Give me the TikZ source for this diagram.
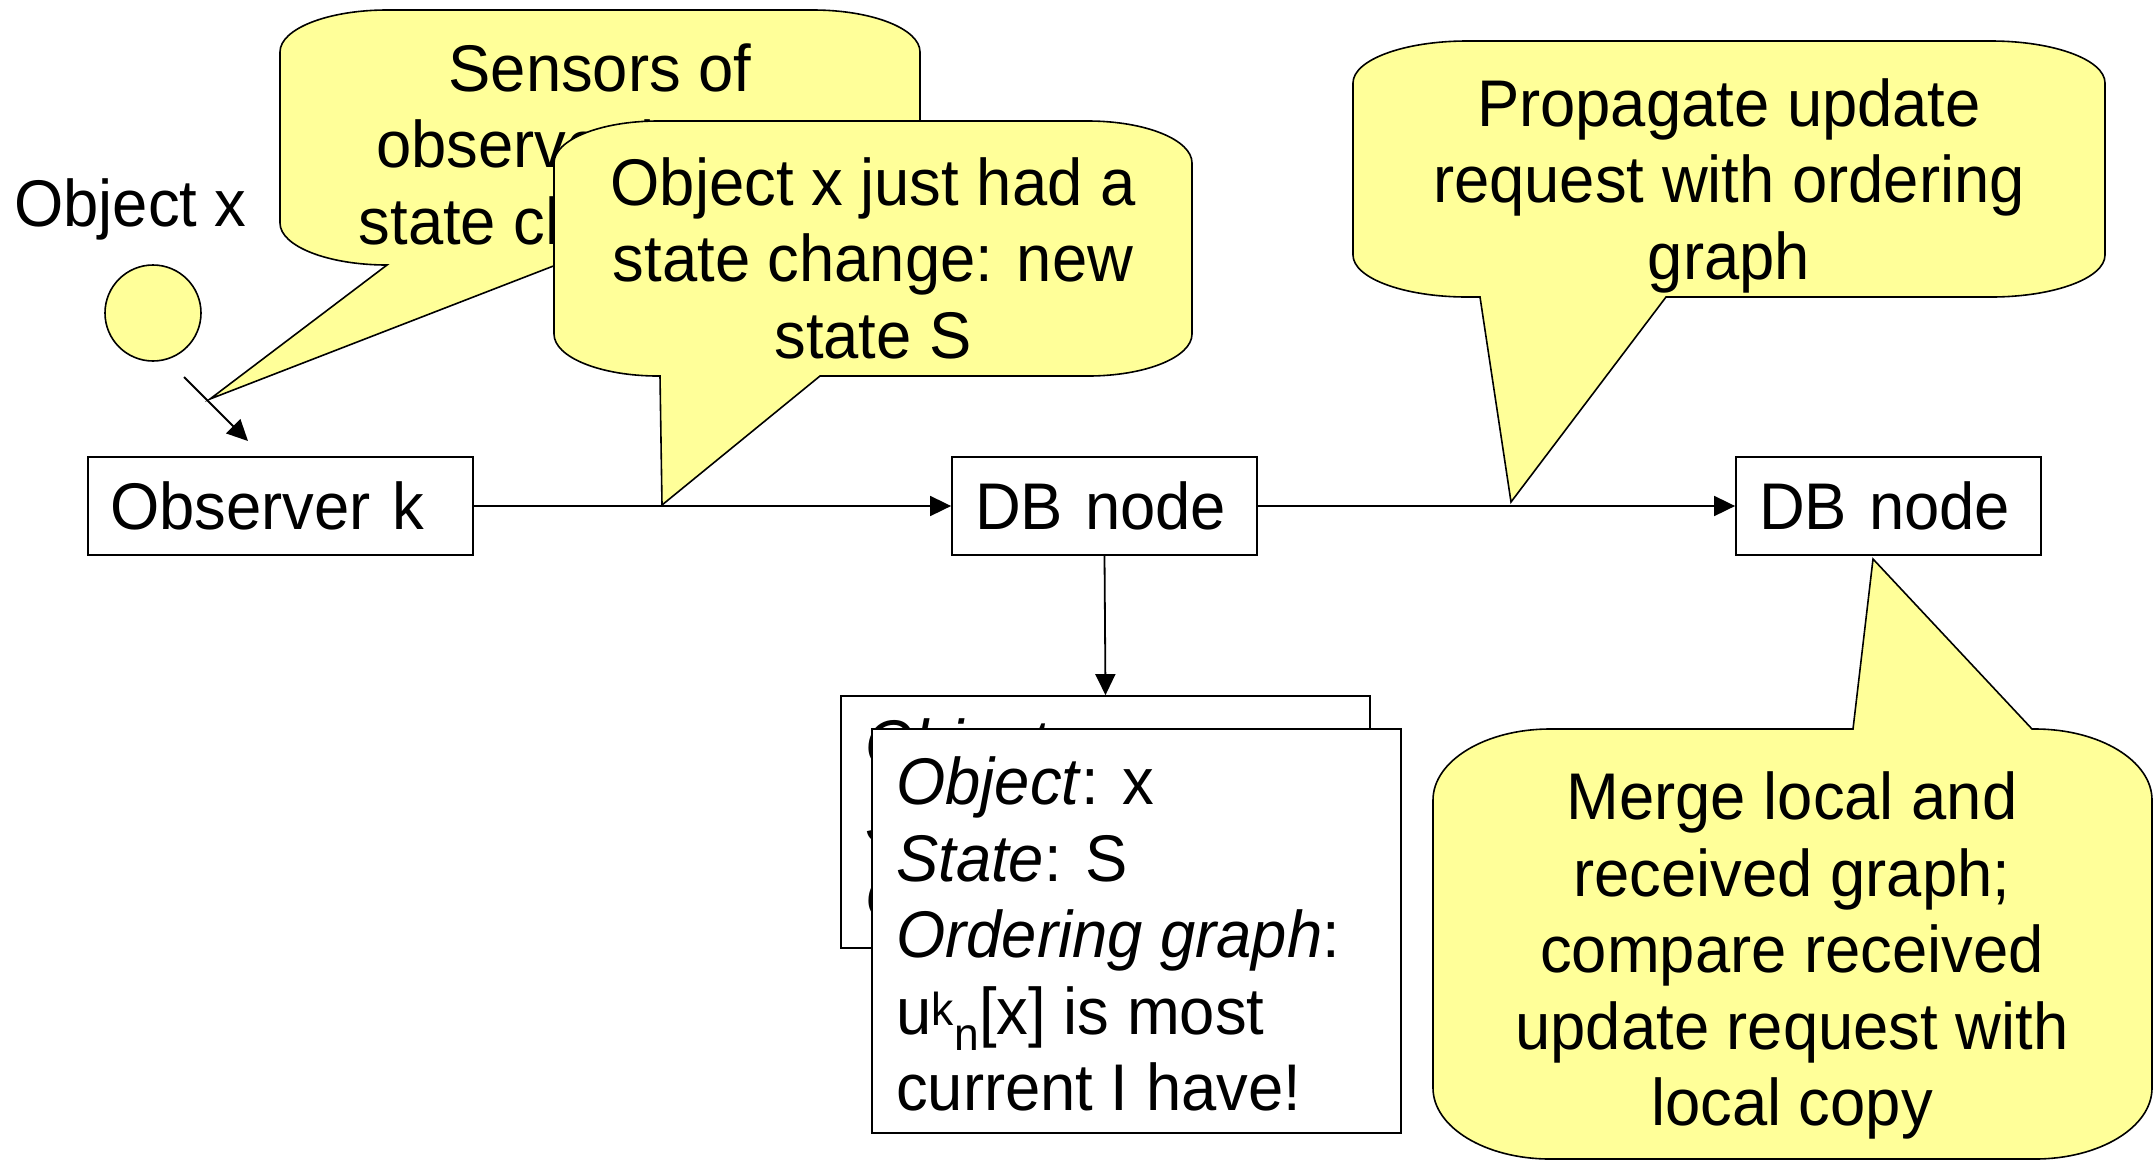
\documentclass[tikz,border=0pt]{standalone}
\usepackage{fontspec}
\setmainfont{Liberation Sans}[FakeStretch=0.96]
\usetikzlibrary{arrows.meta}
\definecolor{bubyellow}{HTML}{FFFF99}
\tikzset{
  bubble/.style={draw=black, line width=1.6pt, fill=bubyellow, line join=miter},
  rbox/.style={draw=black, line width=1.8pt, fill=white, rectangle, inner sep=0pt, align=left},
  onel/.style={text height=47.3pt, text depth=0pt},
  ml/.style={inner sep=0pt, align=center},
  mll/.style={inner sep=0pt, align=left},
  arr/.style={line width=1.8pt, -{Triangle[length=21pt,width=20pt]}},
}
\begin{document}
\begin{tikzpicture}[x=1pt,y=1pt,font=\fontsize{66}{76.5}\selectfont]
\useasboundingbox (0,0) rectangle (2154,-1160);

% object and its label
\node[inner sep=0pt, onel, anchor=west] (objlabel) at (14,-203) {Object x};
\node[circle, draw=black, line width=1.6pt, fill=bubyellow, minimum size=96pt, inner sep=0pt] (obj) at (153,-313) {};

% boxes
\node[rbox, onel, minimum width=385pt, minimum height=98pt, text width=341pt] (obs) at (280.5,-506) {Observer k};
\node[rbox, onel, minimum width=305pt, minimum height=98pt, text width=259pt] (db1) at (1104.5,-506) {DB node};
\node[rbox, onel, minimum width=305pt, minimum height=98pt, text width=259pt] (db2) at (1888.5,-506) {DB node};

% arrows
\coordinate (s1) at (184,-377);
\coordinate (s2) at (248,-441);
\draw[arr] (s1) -- (s2);
\draw[arr] (obs.east) -- (db1.west);
\draw[arr] (db1.east) -- (db2.west);

% stacked record boxes
\node[rbox, minimum width=529pt, minimum height=252pt] (back) at (1105.5,-822) {};
\draw[arr] (db1.south) -- (back.north);
\node[mll, anchor=west] (backtxt) at (865,-827.4) {\textit{Object}: x\strut\\\textit{State}: S\strut\\\textit{Ordering graph}:\strut};
\node[rbox, minimum width=529pt, minimum height=404pt] (front) at (1136.5,-931) {};
\node[mll, anchor=west] (fronttxt) at (896,-942.4) {\textit{Object}: x\strut\\\textit{State}: S\strut\\\textit{Ordering graph}:\strut\\u\textsuperscript{k}\textsubscript{n}[x] is most\strut\\current I have!\strut};

% callout 1 (partly hidden)
\draw[bubble] (387,-10) -- (813,-10) arc[start angle=90,end angle=0,x radius=107,y radius=42]
  -- (920,-223) arc[start angle=0,end angle=-90,x radius=107,y radius=42]
  -- (556,-265) -- (210,-399) -- (387,-265)
  arc[start angle=-90,end angle=-180,x radius=107,y radius=42]
  -- (280,-52) arc[start angle=180,end angle=90,x radius=107,y radius=42] -- cycle;
\node[ml] (t1) at (600,-152.5) {Sensors of\strut\\observer k sees\strut\\state change of x\strut};

% callout 2
\draw[bubble] (658,-121) -- (1088,-121) arc[start angle=90,end angle=0,x radius=104,y radius=42]
  -- (1192,-334) arc[start angle=0,end angle=-90,x radius=104,y radius=42]
  -- (820,-376) -- (662,-505) -- (660,-376) -- (658,-376)
  arc[start angle=-90,end angle=-180,x radius=104,y radius=42]
  -- (554,-163) arc[start angle=180,end angle=90,x radius=104,y radius=42] -- cycle;
\node[ml] (t2) at (873,-266.4) {Object x just had a\strut\\state change: new\strut\\state S\strut};

% callout 3
\draw[bubble] (1467,-41) -- (1991,-41) arc[start angle=90,end angle=0,x radius=114,y radius=42]
  -- (2105,-255) arc[start angle=0,end angle=-90,x radius=114,y radius=42]
  -- (1666,-297) -- (1511,-502) -- (1480,-297) -- (1467,-297)
  arc[start angle=-90,end angle=-180,x radius=114,y radius=42]
  -- (1353,-83) arc[start angle=180,end angle=90,x radius=114,y radius=42] -- cycle;
\node[ml] (t3) at (1729,-187.4) {Propagate update\strut\\request with ordering\strut\\graph\strut};

% callout 4
\draw[bubble] (1550,-729) -- (1853,-729) -- (1873,-559) -- (2032,-729) -- (2035,-729)
  arc[start angle=90,end angle=0,x radius=117,y radius=71]
  -- (2152,-1088) arc[start angle=0,end angle=-90,x radius=117,y radius=71]
  -- (1550,-1159) arc[start angle=-90,end angle=-180,x radius=117,y radius=71]
  -- (1433,-800) arc[start angle=180,end angle=90,x radius=117,y radius=71] -- cycle;
\node[ml] (t4) at (1792,-957.4) {Merge local and\strut\\received graph;\strut\\compare received\strut\\update request with\strut\\local copy\strut};
\end{tikzpicture}
\end{document}
